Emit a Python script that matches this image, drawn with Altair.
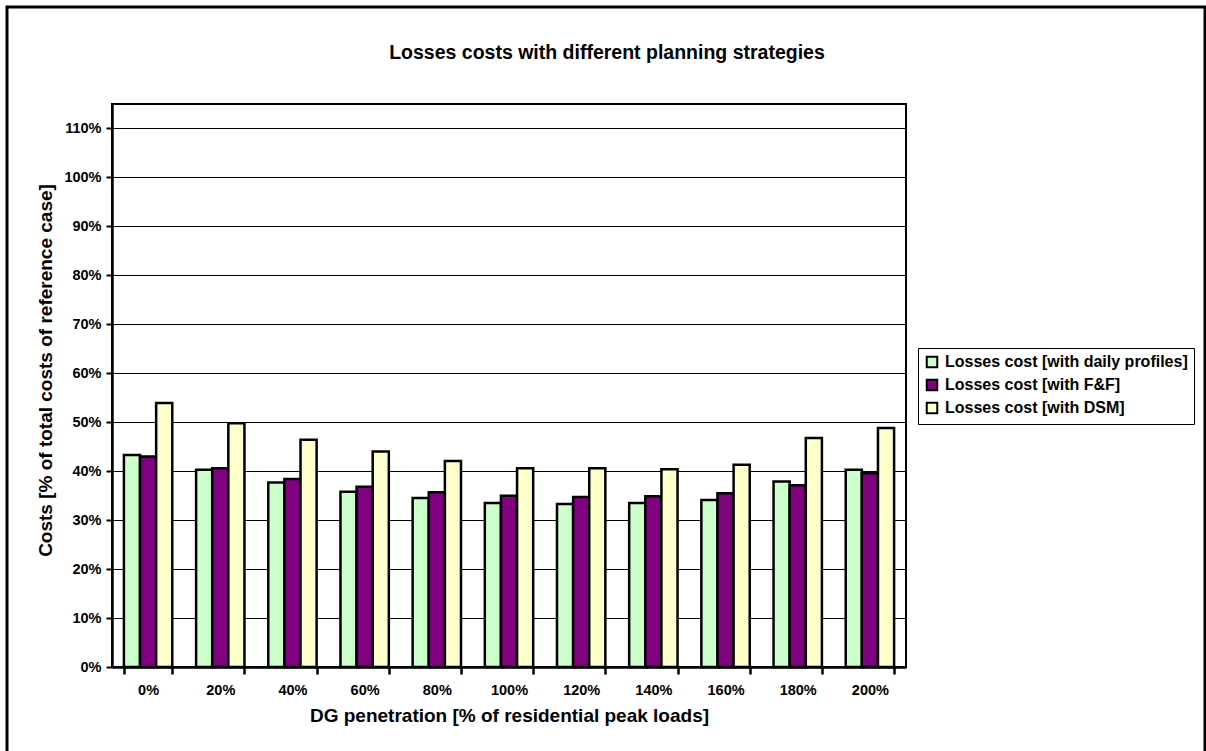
import altair as alt
import pandas as pd

# DG penetration levels (x categories)
categories = ["0%", "20%", "40%", "60%", "80%", "100%", "120%", "140%", "160%", "180%", "200%"]

# Losses cost as % of total costs of the reference case
daily_profiles = [43.3, 40.3, 37.7, 35.8, 34.5, 33.5, 33.3, 33.5, 34.1, 37.9, 40.3]
with_ff = [43.0, 40.6, 38.4, 36.8, 35.7, 35.0, 34.7, 34.9, 35.5, 37.1, 39.6]
with_dsm = [53.9, 49.8, 46.4, 44.0, 42.1, 40.6, 40.6, 40.4, 41.3, 46.8, 48.8]

series_names = [
    "Losses cost [with daily profiles]",
    "Losses cost [with F&F]",
    "Losses cost [with DSM]",
]
series_colors = ["#CCFFCC", "#800080", "#FFFFCC"]
y_ticks = [i / 10 for i in range(12)]
chart_title = "Losses costs with different planning strategies"

rows = []
for name, values in zip(series_names, [daily_profiles, with_ff, with_dsm]):
    for cat, v in zip(categories, values):
        rows.append({"penetration": cat, "series": name, "cost": v / 100})
df = pd.DataFrame(rows)

FONT = "Liberation Sans"

bars = (
    alt.Chart(df)
    .mark_bar(stroke="black", strokeWidth=2.5)
    .encode(
        x=alt.X(
            "penetration:N",
            sort=categories,
            scale=alt.Scale(paddingInner=0.33, paddingOuter=0.165),
            axis=alt.Axis(
                title="DG penetration [% of residential peak loads]",
                labelAngle=0,
                tickBand="extent",
                tickSize=7,
                tickWidth=2.5,
                tickColor="black",
                domainColor="black",
                domainWidth=2.5,
                labelPadding=9,
                labelFontSize=14.5,
                labelFontWeight="bold",
                labelColor="black",
                titleFontSize=19,
                titleFontWeight="bold",
                titleColor="black",
                titlePadding=10,
                grid=False,
            ),
        ),
        xOffset=alt.XOffset(
            "series:N",
            sort=series_names,
            scale=alt.Scale(paddingInner=0, paddingOuter=0),
        ),
        y=alt.Y(
            "cost:Q",
            scale=alt.Scale(domain=[0, 1.15], nice=False),
            axis=alt.Axis(
                title="Costs [% of total costs of reference case]",
                values=y_ticks,
                format=".0%",
                tickSize=6,
                tickWidth=2,
                tickColor="black",
                domainColor="black",
                domainWidth=2.5,
                gridColor="black",
                gridWidth=1,
                labelPadding=5,
                labelFontSize=14.5,
                labelFontWeight="bold",
                labelColor="black",
                titleFontSize=19,
                titleFontWeight="bold",
                titleColor="black",
                titleAngle=270,
                titleAlign="center",
                titleBaseline="middle",
                titleX=-67,
                titleY=266,
            ),
        ),
        color=alt.Color(
            "series:N",
            sort=series_names,
            scale=alt.Scale(domain=series_names, range=series_colors),
            legend=alt.Legend(
                title=None,
                orient="none",
                legendX=806,
                legendY=244,
                symbolType="square",
                symbolSize=110,
                symbolStrokeColor="black",
                symbolStrokeWidth=2,
                labelFontSize=16,
                labelFontWeight="bold",
                labelColor="black",
                labelLimit=400,
                labelOffset=5,
                rowPadding=3,
                padding=6,
                strokeColor="black",
                fillColor="white",
            ),
        ),
    )
)

# Outer frame around the whole chart
frame = (
    alt.Chart(alt.Data(values=[{}]))
    .mark_rect(fill=None, stroke="black", strokeWidth=3)
    .encode(
        x=alt.value(-105),
        x2=alt.value(1093),
        y=alt.value(-97),
        y2=alt.value(700),
    )
)

# Chart heading, centred over the whole figure
heading = (
    alt.Chart(alt.Data(values=[{}]))
    .mark_text(
        text=chart_title,
        fontSize=19.5,
        fontWeight="bold",
        color="black",
        align="center",
        baseline="middle",
    )
    .encode(x=alt.value(495), y=alt.value(-51))
)

chart = (
    alt.layer(bars, frame, heading)
    .properties(
        width=794,
        height=563,
        autosize=alt.AutoSizeParams(type="none"),
        padding={"left": 112, "top": 104, "right": 300, "bottom": 84},
        background="white",
    )
    .configure(font=FONT)
    .configure_view(stroke="black", strokeWidth=2)
)

chart.save("out.html", embed_options={"renderer": "svg", "actions": False})
